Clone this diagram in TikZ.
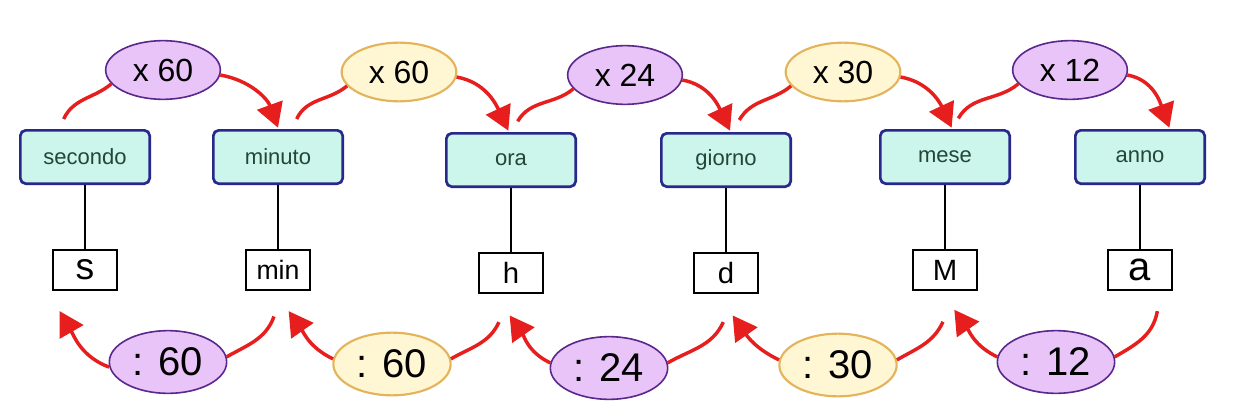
\documentclass[tikz,border=0pt]{standalone}
\usepackage{fontspec}
\setmainfont{Liberation Sans}
\usetikzlibrary{shapes.geometric, arrows.meta, positioning}

\definecolor{unitfill}{RGB}{204,246,236}
\definecolor{unitline}{RGB}{40,40,140}
\definecolor{unittext}{RGB}{35,70,55}
\definecolor{lilafill}{RGB}{232,196,248}
\definecolor{lilaline}{RGB}{90,40,140}
\definecolor{gialfill}{RGB}{255,246,212}
\definecolor{gialline}{RGB}{228,180,90}
\definecolor{convred}{RGB}{230,30,30}

\begin{document}
\begin{tikzpicture}[x=0.75pt, y=0.75pt,
        unit/.style={rectangle, rounded corners=4pt, draw=unitline, fill=unitfill, line width=2pt, minimum width=97pt, minimum height=40pt, inner sep=0pt, text=unittext, font=\fontsize{16.5}{18}\selectfont},
        symb/.style={rectangle, draw=black, fill=white, line width=1.6pt, minimum width=48pt, minimum height=30pt, inner sep=0pt},
        lila/.style={ellipse, draw=lilaline, fill=lilafill, line width=1.2pt, minimum width=86pt, minimum height=44pt, inner sep=0pt},
        gial/.style={ellipse, draw=gialline, fill=gialfill, line width=1.6pt, minimum width=86pt, minimum height=44pt, inner sep=0pt},
        up/.style={font=\fontsize{24}{26}\selectfont},
        down/.style={font=\fontsize{30}{32}\selectfont, minimum height=47pt, minimum width=88pt},
        link/.style={-, line width=1.5pt},
        conv/.style={draw=convred, line width=2.6pt},
        convtip/.style={conv, -{Triangle[length=18pt, width=20pt]}}
    ]
        \fill[white] (0,0) rectangle (1240,419);
        \useasboundingbox (0,0) rectangle (1240,419);

        % Units
        \node[unit] (secondo) at (85,262) {secondo};
        \node[unit] (minuto) at (278,262) {minuto};
        \node[unit] (ora) at (511,259) {ora};
        \node[unit] (giorno) at (726,259) {giorno};
        \node[unit] (mese) at (945,262) {mese};
        \node[unit] (anno) at (1140,262) {anno};

        % Symbols
        \node[symb, below=48pt of secondo, font=\fontsize{28}{30}\selectfont] (s) {s};
        \node[symb, below=48pt of minuto, font=\fontsize{20}{22}\selectfont] (min) {min};
        \node[symb, below=48pt of ora, font=\fontsize{22}{24}\selectfont] (h) {h};
        \node[symb, below=48pt of giorno, font=\fontsize{22}{24}\selectfont] (d) {d};
        \node[symb, below=48pt of mese, font=\fontsize{22}{23}\selectfont] (M) {M};
        \node[symb, below=48pt of anno, font=\fontsize{30}{32}\selectfont] (a) {a};

        \foreach \u/\v in {secondo/s, minuto/min, ora/h, giorno/d, mese/M, anno/a}
            \draw[link] (\u) -- (\v);

        % Multiply (top)
        \node[lila, up] (xa) at (163,349) {x 60};
        \node[gial, up] (xb) at (399,347) {x 60};
        \node[lila, up] (xc) at (625,344) {x 24};
        \node[gial, up] (xd) at (843,347) {x 30};
        \node[lila, up] (xe) at (1070,349) {x 12};

        \draw[conv] ([xshift=-16pt, yshift=7.5pt]secondo.north) to[out=65, in=220] (xa.195);
        \draw[convtip] (xa.-5) to[out=-10, in=110] ([yshift=1pt]minuto.north);
        \draw[conv] ([xshift=14pt, yshift=7.5pt]minuto.north) to[out=65, in=220] (xb.195);
        \draw[convtip] (xb.-5) to[out=-10, in=115] ([xshift=-2pt, yshift=1pt]ora.north);
        \draw[conv] ([xshift=5pt, yshift=8pt]ora.north) to[out=60, in=220] (xc.195);
        \draw[convtip] (xc.-5) to[out=-10, in=115] ([xshift=3pt, yshift=1pt]giorno.north);
        \draw[conv] ([xshift=10pt, yshift=9pt]giorno.north) to[out=60, in=220] (xd.195);
        \draw[convtip] (xd.-5) to[out=-10, in=115] ([xshift=5pt, yshift=1pt]mese.north);
        \draw[conv] ([xshift=10pt, yshift=8pt]mese.north) to[out=60, in=220] (xe.195);
        \draw[convtip] (xe.-5) to[out=-10, in=110] ([xshift=22pt, yshift=1pt]anno.north);

        % Divide (bottom)
        \node[lila, down] (da) at (168,57) {: 60};
        \node[gial, down] (db) at (392,55) {: 60};
        \node[lila, down] (dc) at (609,51) {: 24};
        \node[gial, down] (dd) at (838,54) {: 30};
        \node[lila, down] (de) at (1056,57) {: 12};

        \draw[conv] ([xshift=-3pt, yshift=-19pt]min.south) to[out=-110, in=30] (da.5);
        \draw[convtip] (da.185) to[out=160, in=-60] ([xshift=-19pt, yshift=-15pt]s.south);
        \draw[conv] ([xshift=-9pt, yshift=-21pt]h.south) to[out=-115, in=30] (db.5);
        \draw[convtip] (db.175) to[out=155, in=-55] ([xshift=8pt, yshift=-15pt]min.south);
        \draw[conv] ([xshift=-2pt, yshift=-21pt]d.south) to[out=-115, in=30] (dc.5);
        \draw[convtip] (dc.175) to[out=155, in=-55] ([xshift=-1pt, yshift=-16pt]h.south);
        \draw[conv] ([xshift=-1.5pt, yshift=-23pt]M.south) to[out=-115, in=30] (dd.5);
        \draw[convtip] (dd.175) to[out=155, in=-55] ([xshift=5pt, yshift=-16pt]d.south);
        \draw[conv] ([xshift=13pt, yshift=-15pt]a.south) to[out=-100, in=30] (de.5);
        \draw[convtip] (de.175) to[out=155, in=-55] ([xshift=7pt, yshift=-14pt]M.south);
    \end{tikzpicture}
\end{document}
